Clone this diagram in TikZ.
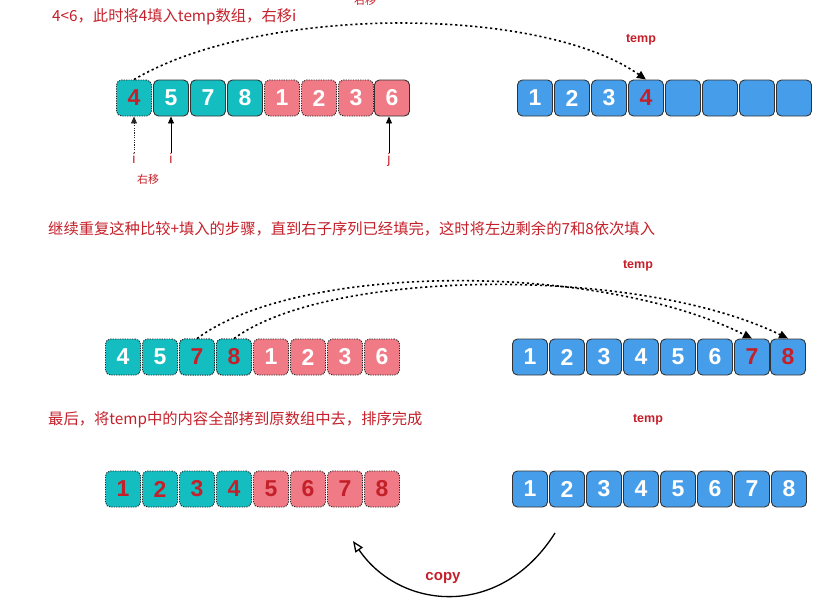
\documentclass[tikz,border=0pt]{standalone}
\usepackage{fontspec}
\setmainfont{Liberation Sans}
\newfontfamily\cjk{Noto Sans CJK SC}
\usetikzlibrary{arrows.meta}
\definecolor{teal1}{RGB}{20,190,192}
\definecolor{pink1}{RGB}{240,122,133}
\definecolor{blue1}{RGB}{70,158,234}
\definecolor{red1}{RGB}{196,32,42}
\begin{document}
\begin{tikzpicture}[x=1pt,y=-1pt,
  cell/.style={minimum width=35pt,minimum height=36pt,rounded corners=5pt,inner sep=0pt,font=\bfseries\fontsize{23}{23}\selectfont,text=white,draw=black!80,line width=0.9pt},
  dot/.style={dash pattern=on 1.2pt off 1.2pt,draw=black!85},
  tc/.style={cell,fill=teal1},
  pc/.style={cell,fill=pink1},
  bc/.style={cell,fill=blue1},
  rt/.style={text=red1},
  lab/.style={text=red1,font=\cjk\fontsize{15.3}{15.3}\selectfont,anchor=west,inner sep=0pt},
  tmp/.style={text=red1,font=\bfseries\fontsize{12.5}{12.5}\selectfont,inner sep=0pt},
  arc/.style={line width=1.6pt,dash pattern=on 2.2pt off 2.8pt,-{Triangle[length=9pt,width=8pt]}}]
\useasboundingbox (0,0) rectangle (833,603);
% row 1
\node[tc,dot,rt] (a1) at (134,98) {4};
\node[tc] (a2) at (171,98) {5};
\node[tc] (a3) at (208,98) {7};
\node[tc] (a4) at (245,98) {8};
\node[pc,dot] (a5) at (282,98) {1};
\node[pc,dot] (a6) at (319,98) {2};
\node[pc,dot] (a7) at (356,98) {3};
\node[pc] (a8) at (392,98) {6};
\foreach \i/\t in {1/1,2/2,3/3,4/{\textcolor{red1}{4}},5/,6/,7/,8/}
  \node[bc] (b\i) at ({535+37*(\i-1)},98) {\t};
\node[lab] (t1) at (52,17) {4<6，此时将4填入temp数组，右移i};
\node[lab,font=\cjk\fontsize{11}{11}\selectfont] (t1b) at (354,0) {右移};
\node[tmp] (tp1) at (641,40) {temp};
\draw[arc] (a1.north) .. controls (260,5) and (540,5) .. (b4.north);
\node[text=red1,inner sep=0pt,font=\fontsize{14}{14}\selectfont] (i1) at (134,158) {i};
\node[text=red1,inner sep=0pt,font=\fontsize{14}{14}\selectfont] (i2) at (171,158) {i};
\node[text=red1,inner sep=0pt,font=\fontsize{14}{14}\selectfont] (j1) at (389,160) {j};
\draw[dot,line width=0.9pt,-{Triangle[length=7pt,width=6pt]}] (i1.north) -- (a1.south);
\draw[line width=0.9pt,-{Triangle[length=7pt,width=6pt]}] (i2.north) -- (a2.south);
\draw[line width=0.9pt,-{Triangle[length=7pt,width=6pt]}] (j1.north) -- (a8.south-|j1);
\node[lab,font=\cjk\fontsize{11}{11}\selectfont] (t1c) at (137,179) {右移};
% row 2
\node[lab] (t2) at (48,229) {继续重复这种比较+填入的步骤，直到右子序列已经填完，这时将左边剩余的7和8依次填入};
\node[tmp] (tp2) at (638,266) {temp};
\foreach \i/\t/\s in {1/4/tc,2/5/tc,3/7/tc,4/8/tc,5/1/pc,6/2/pc,7/3/pc,8/6/pc}
  \node[\s,dot] (c\i) at ({123+37*(\i-1)},357) {\t};
\node[tc,dot,rt] at (c3) {7};
\node[tc,dot,rt] at (c4) {8};
\foreach \i in {1,...,6}
  \node[bc] (d\i) at ({530+37*(\i-1)},357) {\i};
\node[bc,rt] (d7) at (752,357) {7};
\node[bc,rt] (d8) at (788,357) {8};
\draw[arc] (c3.north) .. controls (300,262) and (600,262) .. (d7.north);
\draw[arc] (c4.north) .. controls (330,268) and (640,266) .. (d8.north);
% row 3
\node[lab] (t3) at (48,420) {最后，将temp中的内容全部拷到原数组中去，排序完成};
\node[tmp] (tp3) at (648,420) {temp};
\foreach \i/\s in {1/tc,2/tc,3/tc,4/tc,5/pc,6/pc,7/pc,8/pc}
  \node[\s,dot,rt] (e\i) at ({123+37*(\i-1)},489) {\i};
\foreach \i in {1,...,8}
  \node[bc] (f\i) at ({530+37*(\i-1)},489) {\i};
\coordinate (cs) at (555,533);
\coordinate (ce) at (353,541);
\draw[line width=1.3pt,-{Triangle[open,length=11pt,width=9pt]}] (cs) .. controls (500,620) and (400,610) .. (ce);
\node[text=red1,font=\bfseries\fontsize{15}{15}\selectfont,inner sep=0pt] (cp) at (443,578) {copy};
\end{tikzpicture}
\end{document}
